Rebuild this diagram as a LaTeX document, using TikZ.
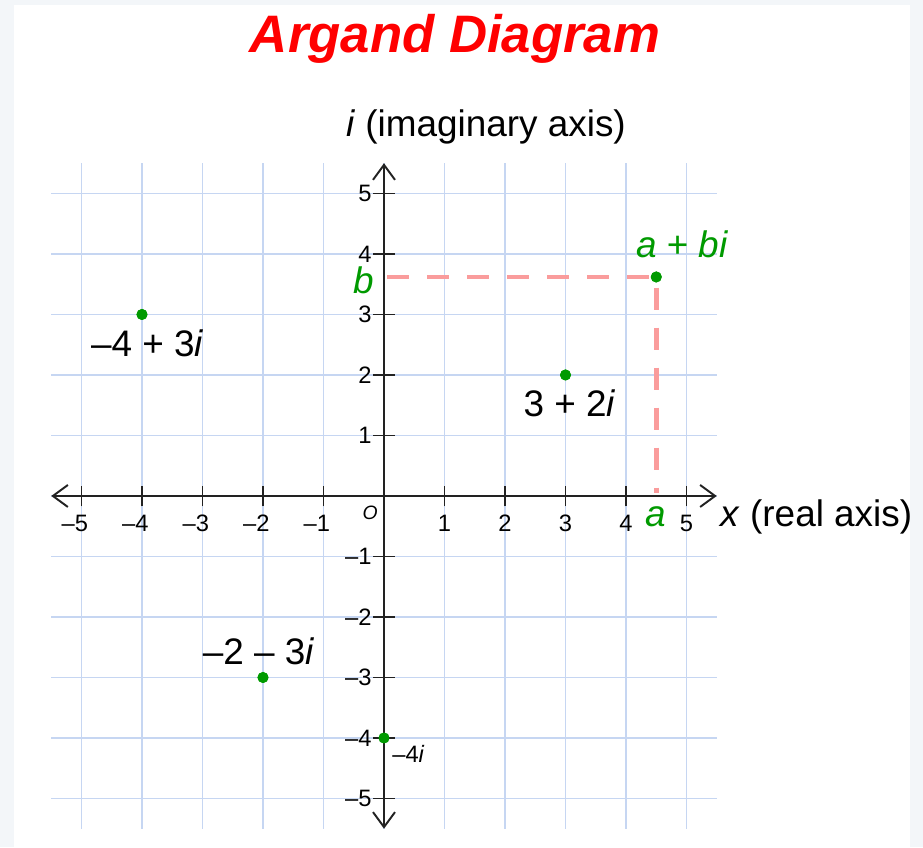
\documentclass[tikz,border=0pt]{standalone}
\usepackage{fontspec}
\setmainfont{Liberation Sans}
\usetikzlibrary{arrows.meta}
\definecolor{TitleRed}{HTML}{FF0000}
\definecolor{PointGreen}{HTML}{009A00}
\definecolor{GridBlue}{HTML}{C6D6F2}
\definecolor{DashPink}{HTML}{FA9C9C}
\definecolor{AxisInk}{HTML}{222222}
\definecolor{Backdrop}{HTML}{F3F6F9}

\begin{document}
\begin{tikzpicture}[x=1.21cm, y=1.21cm, >={Straight Barb[length=0.3cm,width=0.44cm]},
    ticklabel/.style={font=\fontsize{13.5}{15}\selectfont, inner sep=0pt},
    biglabel/.style={font=\fontsize{21}{25}\selectfont, inner sep=0pt, anchor=base},
    ptdot/.style={circle, fill=PointGreen, inner sep=0pt, minimum size=0.22cm},
    axisline/.style={line width=1.1pt, color=AxisInk}]
    \useasboundingbox (-6.347,-5.802) rectangle (8.909,8.198);
    \fill[Backdrop] (-6.347,-5.802) rectangle (8.909,8.198);
    \fill[white] (-6.116,-5.802) rectangle (8.694,8.116);
    \draw[GridBlue, line width=0.85pt, step=1] (-5.5,-5.5) grid (5.5,5.5);

    \node[font=\fontsize{30}{36}\selectfont\bfseries\itshape, text=TitleRed, anchor=base] (title) at (1.174,7.322) {Argand Diagram};
    \node[biglabel] (imaxis) at (1.686,5.934) {\textit{i} (imaginary axis)};
    \node[biglabel, anchor=base west] (reaxis) at (5.554,-0.512) {\textit{x} (real axis)};

    \node[ptdot] (pa) at (-4,3) {};
    \node[ptdot] (pb) at (3,2) {};
    \node[ptdot] (pc) at (-2,-3) {};
    \node[ptdot] (pd) at (0,-4) {};
    \node[ptdot] (pz) at (4.5,3.62) {};
    \coordinate (bmark) at (0.05,3.62);
    \coordinate (amark) at (4.5,0.05);
    \draw[DashPink, line width=2.8pt, dash pattern=on 0.44cm off 0.36cm] (bmark) -- (pz.center) -- (amark);

    \draw[<->, axisline] (-5.5,0) -- (5.5,0);
    \draw[<->, axisline] (0,-5.5) -- (0,5.5);
    \foreach \n in {-5,...,-1,1,2,...,5} {
      \draw[axisline] (\n,-0.17) -- (\n,0.17);
      \draw[axisline] (-0.18,\n) -- (0.18,\n);
    }
    \foreach \n in {1,...,5} {
      \node[ticklabel, anchor=base] at (\n,-0.579) {\n};
      \node[ticklabel, anchor=base] at (-\n,-0.579) {\llap{–}\n};
      \node[ticklabel, anchor=east] at (-0.2,\n) {\n};
      \node[ticklabel, anchor=east] at (-0.2,-\n) {–\n};
    }
    \node[font=\fontsize{11}{12}\selectfont\itshape, inner sep=0pt] (origin) at (-0.231,-0.273) {O};

    \node[ptdot] at (pa) {};
    \node[ptdot] at (pb) {};
    \node[ptdot] at (pc) {};
    \node[ptdot] at (pd) {};
    \node[ptdot] at (pz) {};
    \node[biglabel] (la) at (-3.909,2.298) {–4 + 3\textit{i}};
    \node[biglabel] (lb) at (3.07,1.306) {3 + 2\textit{i}};
    \node[biglabel] (lc) at (-2.07,-2.79) {–2 – 3\textit{i}};
    \node[ticklabel, anchor=base west] (ld) at (0.132,-4.397) {–4\textit{i}};
    \node[biglabel, text=PointGreen] (lz) at (4.93,3.95) {\textit{a} + \textit{bi}};
    \node[biglabel, text=PointGreen] (lbm) at (-0.33,3.34) {\textit{b}};
    \node[biglabel, text=PointGreen] (lam) at (4.5,-0.51) {\textit{a}};
\end{tikzpicture}
\end{document}
